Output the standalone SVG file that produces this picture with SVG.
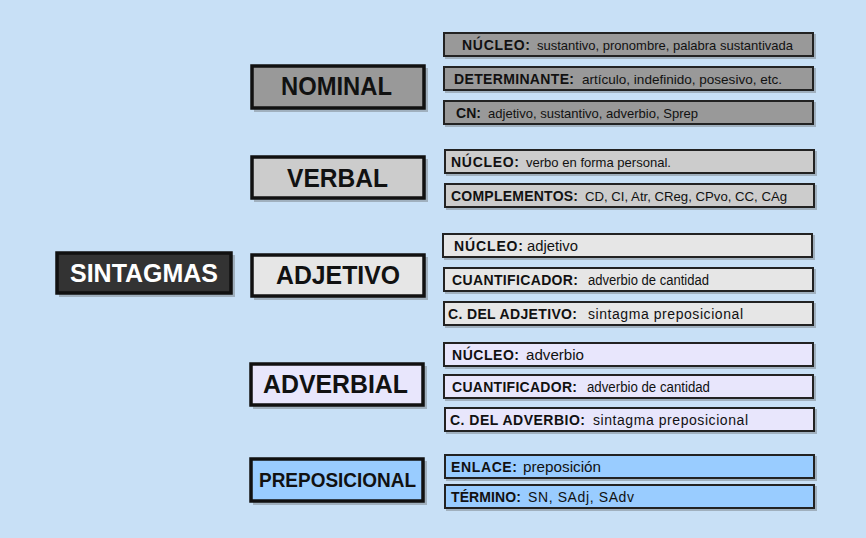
<svg xmlns="http://www.w3.org/2000/svg" width="866" height="538" viewBox="0 0 866 538">
<style>
.main{stroke:#111;stroke-width:3.5}
.sub{stroke:#222;stroke-width:2}
.sh{fill:#555;opacity:0.35}
.t{font-family:"Liberation Sans",Arial,sans-serif;font-weight:bold;font-size:25px;fill:#111}
.b1{font-family:"Liberation Sans",Arial,sans-serif;fill:#111;font-weight:bold;font-size:14px}
.r1{font-family:"Liberation Sans",Arial,sans-serif;fill:#111;font-size:13px}
.b2{font-family:"Liberation Sans",Arial,sans-serif;fill:#111;font-weight:bold;font-size:14px}
.r2{font-family:"Liberation Sans",Arial,sans-serif;fill:#111;font-size:14px}
.g1{fill:#999999}.g2{fill:#CCCCCC}.g3{fill:#E6E6E6}.g4{fill:#E8E6FC}.g5{fill:#99CCFF}
</style>
<rect width="866" height="538" fill="#C8E0F6"/>
<g id="connectors"></g>
<g id="sintagmas">
<rect class="sh" x="59" y="255" width="176" height="42"/>
<rect class="main" x="57" y="253" width="174" height="40" fill="#333333"/>
<text class="t" x="70" y="282" style="fill:#fff" textLength="148" lengthAdjust="spacingAndGlyphs">SINTAGMAS</text>
</g>
<g id="nominal">
<rect class="sh" x="254" y="68" width="174" height="44"/>
<rect class="main g1" x="252" y="66" width="172" height="42"/>
<text class="t" x="281" y="95" textLength="111" lengthAdjust="spacingAndGlyphs">NOMINAL</text>
</g>
<g id="nominal-nucleo">
<rect class="sh" x="445" y="34" width="371" height="25"/>
<rect class="sub g1" x="444" y="33" width="369" height="23"/>
<text class="b1" x="462" y="50" textLength="68">NÚCLEO:</text>
<text class="r1" x="537" y="50" textLength="256" lengthAdjust="spacingAndGlyphs">sustantivo, pronombre, palabra sustantivada</text>
</g>
<g id="nominal-det">
<rect class="sh" x="445" y="68" width="371" height="25"/>
<rect class="sub g1" x="444" y="67" width="369" height="23"/>
<text class="b1" x="454" y="84" textLength="120">DETERMINANTE:</text>
<text class="r1" x="582" y="84" textLength="200" lengthAdjust="spacingAndGlyphs">artículo, indefinido, posesivo, etc.</text>
</g>
<g id="nominal-cn">
<rect class="sh" x="445" y="102" width="371" height="25"/>
<rect class="sub g1" x="444" y="101" width="369" height="23"/>
<text class="b1" x="456" y="118" textLength="25">CN:</text>
<text class="r1" x="488" y="118" textLength="210" lengthAdjust="spacingAndGlyphs">adjetivo, sustantivo, adverbio, Sprep</text>
</g>
<g id="verbal">
<rect class="sh" x="254" y="159" width="174" height="43"/>
<rect class="main g2" x="252" y="157" width="172" height="41"/>
<text class="t" x="287" y="187" textLength="101" lengthAdjust="spacingAndGlyphs">VERBAL</text>
</g>
<g id="verbal-nucleo">
<rect class="sh" x="446" y="151" width="371" height="25"/>
<rect class="sub g2" x="445" y="150" width="369" height="23"/>
<text class="b1" x="451" y="167" textLength="68">NÚCLEO:</text>
<text class="r1" x="526" y="167" textLength="145" lengthAdjust="spacingAndGlyphs">verbo en forma personal.</text>
</g>
<g id="verbal-comp">
<rect class="sh" x="446" y="185" width="371" height="25"/>
<rect class="sub g2" x="445" y="184" width="369" height="23"/>
<text class="b1" x="451" y="201" textLength="127">COMPLEMENTOS:</text>
<text class="r1" x="585" y="201" textLength="202" lengthAdjust="spacingAndGlyphs">CD, CI, Atr, CReg, CPvo, CC, CAg</text>
</g>
<g id="adjetivo">
<rect class="sh" x="254" y="257" width="174" height="43"/>
<rect class="main g3" x="252" y="255" width="172" height="41"/>
<text class="t" x="276" y="284" textLength="124" lengthAdjust="spacingAndGlyphs">ADJETIVO</text>
</g>
<g id="adj-nucleo">
<rect class="sh" x="444" y="235" width="371" height="25"/>
<rect class="sub g3" x="443" y="234" width="369" height="23"/>
<text class="b2" x="454" y="251" textLength="69">NÚCLEO:</text>
<text class="r2" x="527" y="251" textLength="51" lengthAdjust="spacingAndGlyphs">adjetivo</text>
</g>
<g id="adj-cuant">
<rect class="sh" x="445" y="269" width="371" height="25"/>
<rect class="sub g3" x="444" y="268" width="369" height="23"/>
<text class="b2" x="452" y="285" textLength="126">CUANTIFICADOR:</text>
<text class="r2" x="588" y="285" textLength="121" lengthAdjust="spacingAndGlyphs">adverbio de cantidad</text>
</g>
<g id="adj-comp">
<rect class="sh" x="445" y="303" width="371" height="25"/>
<rect class="sub g3" x="444" y="302" width="369" height="23"/>
<text class="b2" x="448" y="319" textLength="129">C. DEL ADJETIVO:</text>
<text class="r2" x="588" y="319" textLength="155">sintagma preposicional</text>
</g>
<g id="adverbial">
<rect class="sh" x="253" y="366" width="174" height="43"/>
<rect class="main g4" x="251" y="364" width="172" height="41"/>
<text class="t" x="263" y="393" textLength="145" lengthAdjust="spacingAndGlyphs">ADVERBIAL</text>
</g>
<g id="adv-nucleo">
<rect class="sh" x="445" y="344" width="371" height="25"/>
<rect class="sub g4" x="444" y="343" width="369" height="23"/>
<text class="b2" x="452" y="360" textLength="67">NÚCLEO:</text>
<text class="r2" x="526" y="360" textLength="58" lengthAdjust="spacingAndGlyphs">adverbio</text>
</g>
<g id="adv-cuant">
<rect class="sh" x="445" y="376" width="371" height="25"/>
<rect class="sub g4" x="444" y="375" width="369" height="23"/>
<text class="b2" x="452" y="392" textLength="125">CUANTIFICADOR:</text>
<text class="r2" x="587" y="392" textLength="123" lengthAdjust="spacingAndGlyphs">adverbio de cantidad</text>
</g>
<g id="adv-comp">
<rect class="sh" x="446" y="409" width="371" height="25"/>
<rect class="sub g4" x="445" y="408" width="369" height="23"/>
<text class="b2" x="450" y="425" textLength="135">C. DEL ADVERBIO:</text>
<text class="r2" x="593" y="425" textLength="155">sintagma preposicional</text>
</g>
<g id="preposicional">
<rect class="sh" x="253" y="461" width="174" height="44"/>
<rect class="main g5" x="251" y="459" width="172" height="42"/>
<text class="t" x="259" y="487" style="font-size:19.5px" textLength="157" lengthAdjust="spacingAndGlyphs">PREPOSICIONAL</text>
</g>
<g id="prep-enlace">
<rect class="sh" x="446" y="456" width="371" height="25"/>
<rect class="sub g5" x="445" y="455" width="369" height="23"/>
<text class="b2" x="451" y="472" textLength="66">ENLACE:</text>
<text class="r2" x="523" y="472" textLength="78" lengthAdjust="spacingAndGlyphs">preposición</text>
</g>
<g id="prep-termino">
<rect class="sh" x="446" y="486" width="371" height="25"/>
<rect class="sub g5" x="445" y="485" width="369" height="23"/>
<text class="b2" x="451" y="502" textLength="70">TÉRMINO:</text>
<text class="r2" x="528" y="502" textLength="106">SN, SAdj, SAdv</text>
</g>
</svg>
